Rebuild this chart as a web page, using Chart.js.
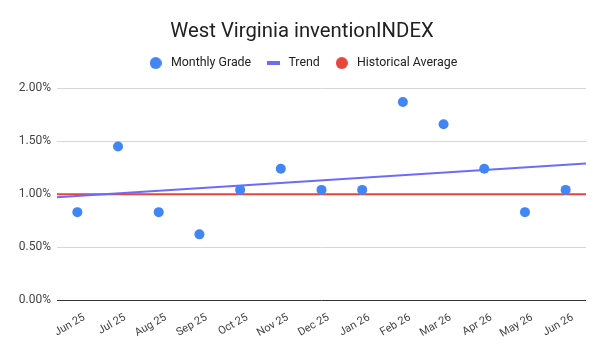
<!DOCTYPE html>
<html>
<head>
<meta charset="utf-8">
<script src="https://cdn.jsdelivr.net/npm/chart.js@4/dist/chart.umd.min.js"></script>
<style>
  html, body { margin: 0; padding: 0; background: #fff; }
  #wrap { width: 604px; height: 351px; position: relative; }
</style>
</head>
<body>
<div id="wrap"><canvas id="grafica"></canvas></div>
<script>
// Datos
const meses = ['Jun 25', 'Jul 25', 'Aug 25', 'Sep 25', 'Oct 25', 'Nov 25', 'Dec 25',
  'Jan 26', 'Feb 26', 'Mar 26', 'Apr 26', 'May 26', 'Jun 26'];
const notaMensual = [0.83, 1.45, 0.83, 0.62, 1.04, 1.24, 1.04, 1.04, 1.87, 1.66, 1.24, 0.83, 1.04];
const tendenciaX = [-0.5, 12.5];
const tendenciaY = [0.97, 1.29];
const promedioHistorico = [1.0, 1.0];
const ticksY = [0, 0.5, 1, 1.5, 2];

const AZUL = '#4285f4';
const MORADO = '#6c6cf6';
const ROJO = '#e8453c';

Chart.defaults.font.family = 'Roboto, "Noto Sans", sans-serif';

// Marcadores de la leyenda (círculo y barrita)
function marcaCirculo(color) {
  const c = document.createElement('canvas');
  c.width = 12; c.height = 12;
  const g = c.getContext('2d');
  g.fillStyle = color;
  g.beginPath();
  g.arc(6, 6, 6, 0, Math.PI * 2);
  g.fill();
  return c;
}
function marcaLinea(color) {
  const c = document.createElement('canvas');
  c.width = 13; c.height = 4;
  const g = c.getContext('2d');
  g.fillStyle = color;
  g.fillRect(0, 0, 13, 4);
  return c;
}
const marcas = {
  'Monthly Grade': marcaCirculo(AZUL),
  'Trend': marcaLinea(MORADO),
  'Historical Average': marcaCirculo(ROJO),
};

// Espacio extra bajo la leyenda
const espacioLeyenda = {
  id: 'espacioLeyenda',
  afterInit(chart) {
    const leyenda = chart.legend;
    if (!leyenda) return;
    const fitOriginal = leyenda.fit.bind(leyenda);
    leyenda.fit = () => {
      fitOriginal();
      leyenda.height += 9;
    };
  },
};

const ctx = document.getElementById('grafica').getContext('2d');
new Chart(ctx, {
  type: 'line',
  plugins: [espacioLeyenda],
  data: {
    datasets: [
      {
        label: 'Monthly Grade',
        data: notaMensual.map((v, i) => ({ x: i, y: v })),
        showLine: false,
        pointStyle: 'circle',
        pointRadius: 5,
        pointHoverRadius: 5,
        borderWidth: 0,
        backgroundColor: AZUL,
        borderColor: AZUL,
      },
      {
        label: 'Trend',
        data: tendenciaX.map((x, i) => ({ x, y: tendenciaY[i] })),
        pointRadius: 0,
        borderWidth: 2,
        borderColor: MORADO,
        backgroundColor: MORADO,
      },
      {
        label: 'Historical Average',
        data: tendenciaX.map((x, i) => ({ x, y: promedioHistorico[i] })),
        pointRadius: 0,
        borderWidth: 2,
        borderColor: ROJO,
        backgroundColor: ROJO,
      },
    ],
  },
  options: {
    responsive: true,
    maintainAspectRatio: false,
    animation: false,
    layout: { padding: { left: 18, right: 18, top: 0, bottom: 0 } },
    plugins: {
      title: {
        display: true,
        text: 'West Virginia inventionINDEX',
        color: '#212121',
        font: { size: 20.3, weight: 'normal' },
        padding: { top: 19.5, bottom: 0 },
      },
      legend: {
        labels: {
          usePointStyle: true,
          pointStyleWidth: 18,
          boxHeight: 12,
          color: '#222',
          font: { size: 12.4 },
          padding: 13,
          generateLabels(chart) {
            const items = Chart.defaults.plugins.legend.labels.generateLabels(chart);
            items.forEach(it => {
              it.pointStyle = marcas[it.text];
              it.lineWidth = 0;
            });
            return items;
          },
        },
      },
      tooltip: { enabled: false },
    },
    scales: {
      x: {
        type: 'linear',
        min: -0.5,
        max: 12.5,
        afterBuildTicks(scale) {
          scale.ticks = meses.map((_, i) => ({ value: i }));
        },
        afterFit(scale) { scale.height = 51; },
        grid: { display: false },
        border: { display: false },
        ticks: {
          autoSkip: false,
          minRotation: 30,
          maxRotation: 30,
          labelOffset: 7,
          color: '#444',
          font: { size: 11 },
          callback: (v) => meses[v],
        },
      },
      y: {
        min: 0,
        max: 2,
        afterBuildTicks(scale) {
          scale.ticks = ticksY.map(v => ({ value: v }));
        },
        afterFit(scale) { scale.width = 39; },
        border: { display: false },
        grid: {
          drawTicks: false,
          color: (c) => c.tick && c.tick.value === 0 ? '#333' : '#d6d6d6',
          lineWidth: 1,
        },
        ticks: {
          padding: 6,
          color: '#444',
          font: { size: 12 },
          callback: (v) => v.toFixed(2) + '%',
        },
      },
    },
  },
});
</script>
</body>
</html>
